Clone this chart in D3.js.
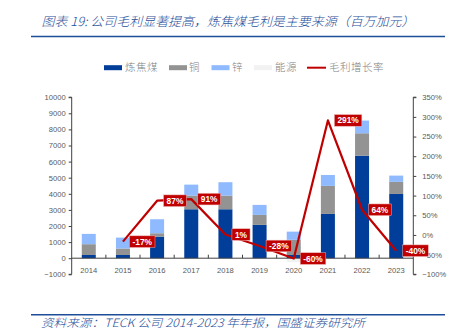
<!DOCTYPE html>
<html><head><meta charset="utf-8">
<script src="https://cdn.jsdelivr.net/npm/d3@7"></script>
<style>
html,body{margin:0;padding:0;background:#fff;}
svg{display:block;}
</style></head>
<body>
<svg id="chart" width="461" height="331"></svg>
<script>
const years = ["2014","2015","2016","2017","2018","2019","2020","2021","2022","2023"];
const coal   = [200, 200, 1340, 3040, 3040, 2070, 200, 2750, 6370, 3990];
const copper = [670, 400, 210, 850, 850, 620, 940, 1740, 1390, 750];
const zinc   = [640, 680, 870, 680, 830, 620, 510, 680, 790, 390];
const energy = [0, 0, 0, 0, 0, 0, -250, 0, 0, 0];
const growth = [null, -0.17, 0.87, 0.91, 0.01, -0.28, -0.60, 2.91, 0.64, -0.40];
const growthLabels = ["", "-17%", "87%", "91%", "1%", "-28%", "-60%", "291%", "64%", "-40%"];
const leftTicks = [-1000,0,1000,2000,3000,4000,5000,6000,7000,8000,9000,10000];
const rightTicks = [-1,-0.5,0,0.5,1,1.5,2,2.5,3,3.5];
const seriesNames = ["炼焦煤","铜","锌","能源"];
const lineName = "毛利增长率";
const titleText = "图表 19:  公司毛利显著提高，炼焦煤毛利是主要来源（百万加元）";
const sourceText = "资料来源：TECK 公司 2014-2023 年年报，国盛证券研究所";

const colors = ["#003E99","#939393","#8FBAFF","#F2F2F2"];
const red = "#C00000";
const blue = "#1F4E99";
const axisColor = "#404040";
const tickTextColor = "#595959";

const svg = d3.select("#chart");
const L = 71.7, R = 413.3, T = 97.2, B = 274.3;

const x = d3.scaleBand().domain(years).range([L, R]).paddingInner(0.59).paddingOuter(0.295);
const yL = d3.scaleLinear().domain([-1000, 10000]).range([B, T]);
const yR = d3.scaleLinear().domain([-1, 3.5]).range([B, T]);

// Title
svg.append("text").attr("x", 41.5).attr("y", 25.5)
  .attr("font-family", "'Noto Sans CJK SC', sans-serif").attr("font-size", 12.5)
  .attr("font-style", "italic").attr("font-weight", 300).attr("fill", blue)
  .attr("textLength", 373).attr("lengthAdjust", "spacingAndGlyphs")
  .text(titleText);
svg.append("line").attr("x1", 31).attr("x2", 445).attr("y1", 36.5).attr("y2", 36.5)
  .attr("stroke", blue).attr("stroke-width", 1.6);

// Legend
const legendItems = [
  {type:"rect", c:colors[0], sx:104, tx:125, name:seriesNames[0]},
  {type:"rect", c:colors[1], sx:169, tx:189, name:seriesNames[1]},
  {type:"rect", c:colors[2], sx:211.5, tx:232, name:seriesNames[2]},
  {type:"rect", c:colors[3], sx:254, tx:275, name:seriesNames[3]},
  {type:"line", c:red, sx:307, tx:329, name:lineName}
];
const ly = 67.7;
legendItems.forEach(it => {
  if (it.type === "rect") {
    svg.append("rect").attr("x", it.sx).attr("y", ly - 2.5).attr("width", 18).attr("height", 5).attr("fill", it.c);
  } else {
    svg.append("line").attr("x1", it.sx).attr("x2", it.sx + 19).attr("y1", ly).attr("y2", ly)
      .attr("stroke", it.c).attr("stroke-width", 2);
  }
  svg.append("text").attr("x", it.tx).attr("y", ly).attr("dy", "0.36em")
    .attr("font-family", "'Noto Sans CJK SC', sans-serif").attr("font-size", 10.5)
    .attr("font-weight", 300).attr("fill", "#7F7F7F").attr("letter-spacing", 0.5).text(it.name);
});

// Stacked bars
const rows = years.map((yr, i) => ({year: yr, coal: coal[i], copper: copper[i], zinc: zinc[i], energy: energy[i]}));
const keys = ["coal","copper","zinc","energy"];
const stack = d3.stack().keys(keys).offset(d3.stackOffsetDiverging)(rows);
svg.append("g").selectAll("g").data(stack).join("g")
  .attr("fill", (d, i) => colors[i])
  .selectAll("rect").data(d => d).join("rect")
  .attr("x", d => x(d.data.year))
  .attr("width", x.bandwidth())
  .attr("y", d => yL(Math.max(d[0], d[1])))
  .attr("height", d => Math.abs(yL(d[0]) - yL(d[1])));

// Left axis
const gl = svg.append("g").attr("transform", `translate(${L},0)`)
  .call(d3.axisLeft(yL).tickValues(leftTicks).tickSize(3).tickPadding(3).tickFormat(d3.format("d")));
gl.select(".domain").attr("stroke", axisColor).attr("d", `M-3,${T}H0V${B}H-3`);
gl.selectAll(".tick line").attr("stroke", axisColor);
gl.selectAll(".tick text").attr("fill", tickTextColor).attr("font-size", 7.6)
  .attr("font-family", "'Liberation Sans', Arial, sans-serif");

// Right axis
const gr = svg.append("g").attr("transform", `translate(${R},0)`)
  .call(d3.axisRight(yR).tickValues(rightTicks).tickSize(3).tickPadding(6).tickFormat(d3.format(".0%")));
gr.select(".domain").attr("stroke", axisColor).attr("d", `M3,${T}H0V${B}H3`);
gr.selectAll(".tick line").attr("stroke", axisColor);
gr.selectAll(".tick text").attr("fill", tickTextColor).attr("font-size", 7.6)
  .attr("font-family", "'Liberation Sans', Arial, sans-serif");

// Zero line with category ticks
const y0 = yL(0);
svg.append("line").attr("x1", L).attr("x2", R).attr("y1", y0).attr("y2", y0)
  .attr("stroke", axisColor).attr("stroke-width", 1);
const step = x.step();
svg.append("g").selectAll("line").data(years.slice(1)).join("line")
  .attr("x1", d => x(d) - x.paddingInner() * step / 2)
  .attr("x2", d => x(d) - x.paddingInner() * step / 2)
  .attr("y1", y0 - 3.5).attr("y2", y0)
  .attr("stroke", axisColor);
svg.append("g").selectAll("text").data(years).join("text")
  .attr("x", d => x(d) + x.bandwidth() / 2).attr("y", 270.7).attr("dy", "0.35em")
  .attr("text-anchor", "middle").attr("font-size", 7.6).attr("fill", tickTextColor)
  .attr("font-family", "'Liberation Sans', Arial, sans-serif").text(d => d);

// Growth line
const pts = years.map((yr, i) => ({year: yr, v: growth[i], label: growthLabels[i]})).filter(d => d.v !== null);
const line = d3.line().x(d => x(d.year) + x.bandwidth() / 2).y(d => yR(d.v));
svg.append("path").datum(pts).attr("d", line).attr("fill", "none")
  .attr("stroke", red).attr("stroke-width", 2.2).attr("stroke-linejoin", "round");

// Data labels
const lg = svg.append("g");
pts.forEach(d => {
  const px = x(d.year) + x.bandwidth() / 2 + 6.5;
  const py = yR(d.v);
  const t = lg.append("text").attr("x", 0).attr("y", py).attr("dy", "0.36em")
    .attr("font-family", "'Liberation Sans', Arial, sans-serif").attr("font-size", 8.4)
    .attr("font-weight", "bold").attr("fill", "#fff").text(d.label);
  const w = t.node().getComputedTextLength();
  const bw = w + 6;
  lg.insert("rect", "text").attr("x", px).attr("y", py - 5.8).attr("width", bw).attr("height", 11.6)
    .attr("fill", red).attr("stroke", "#E8B0B0").attr("stroke-width", 0.5);
  t.attr("x", px + 3);
});
lg.selectAll("text").raise();

// Source
svg.append("line").attr("x1", 31).attr("x2", 445).attr("y1", 314.7).attr("y2", 314.7)
  .attr("stroke", blue).attr("stroke-width", 1.4);
svg.append("text").attr("x", 41).attr("y", 327)
  .attr("font-family", "'Noto Sans CJK SC', sans-serif").attr("font-size", 11.5)
  .attr("font-style", "italic").attr("font-weight", 300).attr("fill", blue)
  .attr("textLength", 324).attr("lengthAdjust", "spacingAndGlyphs")
  .text(sourceText);
</script>
</body></html>
